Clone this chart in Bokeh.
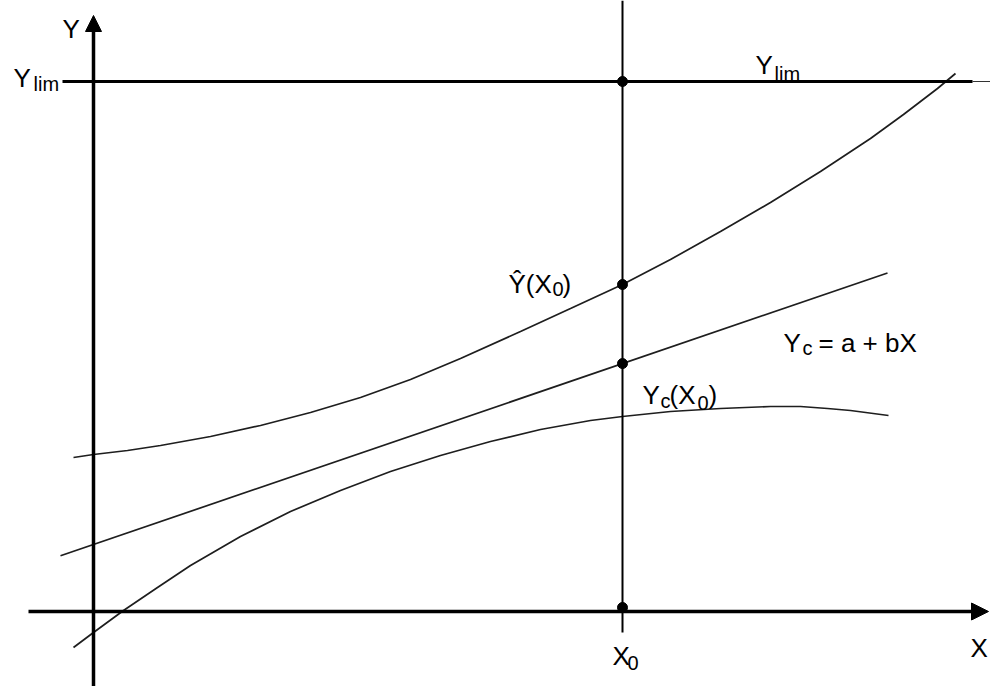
from bokeh.plotting import figure
from bokeh.models import Range1d, Arrow, NormalHead, ColumnDataSource
from bokeh.embed import file_html
from bokeh.resources import INLINE
from bokeh.core.properties import value

# ---- data (chart units: X axis at y=0, Y axis at x=0) ----
# upper curve (prediction band, upper)
upper_x = [-20, 0, 34, 67, 117, 167, 217, 267, 317, 367, 427, 477, 529, 577, 627, 677, 727, 777, 810, 844, 862]
upper_y = [154, 157, 161, 166, 175, 186, 199, 214, 232, 253, 280, 303, 327, 352, 380, 409, 440, 473, 497, 523, 538]
# lower curve
lower_x = [-20, 0, 30, 64, 97, 147, 197, 247, 297, 347, 397, 447, 497, 529, 577, 627, 677, 707, 734, 757, 795]
lower_y = [-36, -21, 1, 24, 46, 75, 100, 121, 140, 156, 170, 182, 191, 195, 200, 203, 205, 205, 203, 201, 196]
# regression line Yc = a + bX
line_a = 67
line_b = 0.342
line_x = [-33, 794]
# limits / reference values
x0 = 529
y_lim = 530
y_lim_x = [-31, 879]
y_lim_tail_x = [879, 897]
x0_line_y = [-21, 611]
x_axis_x = [-65, 895]
y_axis_y = [-75, 596]

# ---- labels (text pieces) ----
label_text = ["Y", "Y", "X", "Y", "Ŷ(X", ")", "Y", "= a + bX", "Y", "(X", ")", "X"]
label_x = [-31, -80, 877, 662, 415, 469, 690, 725, 549, 576, 615, 519]
label_y = [583, 534, -36, 547, 328, 328, 269, 269, 217, 217, 217, -44]
sub_text = ["lim", "lim", "0", "c", "c", "0", "0"]
sub_x = [-60, 681, 459, 709, 567, 604, 534]
sub_y = [528, 538, 323, 264, 211, 209, -51]

line_y = [line_a + line_b * v for v in line_x]
upper_at_x0 = upper_y[upper_x.index(x0)]
dot_x = [x0, x0, x0, x0]
dot_y = [y_lim, upper_at_x0, line_a + line_b * x0, 4]

p = figure(width=990, height=686, output_backend="svg", toolbar_location=None,
           x_range=Range1d(-93, 897), y_range=Range1d(-75, 611),
           x_axis_location=None, y_axis_location=None,
           min_border=0, min_border_left=0, min_border_right=0,
           min_border_top=0, min_border_bottom=0)
p.outline_line_color = None
p.grid.visible = False
p.background_fill_color = "white"
p.border_fill_color = "white"

curve_color = "#1e1e1e"
p.line(upper_x, upper_y, line_color=curve_color, line_width=1.7)
p.line(lower_x, lower_y, line_color=curve_color, line_width=1.7)
p.line(line_x, line_y, line_color=curve_color, line_width=1.7)

# Y_lim line
p.line(y_lim_x, [y_lim, y_lim], line_color="black", line_width=3.2)
p.line(y_lim_tail_x, [y_lim, y_lim], line_color="#333333", line_width=1.2)
# vertical at X0
p.line([x0, x0], x0_line_y, line_color="black", line_width=2)

# axes with arrows
p.add_layout(Arrow(x_start=x_axis_x[0], y_start=0, x_end=x_axis_x[1], y_end=0,
                   line_width=3.5, line_color="black",
                   end=NormalHead(size=17, fill_color="black", line_color="black", line_width=1)))
p.add_layout(Arrow(x_start=0, y_start=y_axis_y[0], x_end=0, y_end=y_axis_y[1],
                   line_width=3.5, line_color="black",
                   end=NormalHead(size=16, fill_color="black", line_color="black", line_width=1)))

# dots
p.scatter(dot_x, dot_y, size=10, color="black")

font = value("Liberation Sans")
src_main = ColumnDataSource(dict(x=label_x, y=label_y, t=label_text))
p.text(x="x", y="y", text="t", source=src_main, text_font=font,
       text_font_size=value("26px"), text_color="black",
       text_align="left", text_baseline="alphabetic")
src_sub = ColumnDataSource(dict(x=sub_x, y=sub_y, t=sub_text))
p.text(x="x", y="y", text="t", source=src_sub, text_font=font,
       text_font_size=value("20px"), text_color="black",
       text_align="left", text_baseline="alphabetic")

open("out.html", "w").write(file_html(p, INLINE))
